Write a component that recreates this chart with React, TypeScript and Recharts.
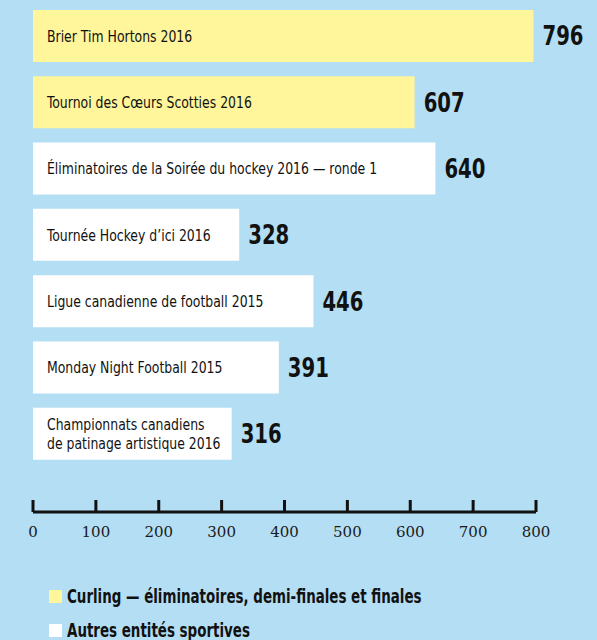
import React from 'react';
import { BarChart, Bar, XAxis, YAxis, Cell, LabelList } from 'recharts';

const categories = [
  'Brier Tim Hortons 2016',
  'Tournoi des Cœurs Scotties 2016',
  'Éliminatoires de la Soirée du hockey 2016 — ronde 1',
  'Tournée Hockey d’ici 2016',
  'Ligue canadienne de football 2015',
  'Monday Night Football 2015',
  'Championnats canadiens\nde patinage artistique 2016',
];
const values = [796, 607, 640, 328, 446, 391, 316];
const groups = ['curling', 'curling', 'autres', 'autres', 'autres', 'autres', 'autres'];
const xTicks = [0, 100, 200, 300, 400, 500, 600, 700, 800];
const legendItems = [
  { key: 'curling', label: 'Curling — éliminatoires, demi-finales et finales' },
  { key: 'autres', label: 'Autres entités sportives' },
];

const COLORS: Record<string, string> = { curling: '#fff59a', autres: '#ffffff' };
const BG = '#b4def3';
const INK = '#111111';
// no narrow face installed, so condensed DejaVu gets squeezed a bit more
const NARROW = '"DejaVu Sans Condensed", "DejaVu Sans", sans-serif';
const SQUEEZE = 0.84;

const data = categories.map((name, i) => ({ name, value: values[i], group: groups[i] }));

const XTick = (props: any) => {
  const { x, y, payload } = props;
  return (
    <g>
      <line x1={x} x2={x} y1={y - 12} y2={y} stroke={INK} strokeWidth={3} />
      <text x={x} y={y + 25} textAnchor="middle" fontFamily='"DejaVu Serif", serif' fontSize={15} fill="#1a1a1a">
        {payload.value}
      </text>
    </g>
  );
};

const NameLabel = (props: any) => {
  const { x, y, height, value } = props;
  const lines = String(value).split('\n');
  const cy = y + height / 2;
  const lh = 18;
  return (
    <text transform={`translate(${x + 14},${cy}) scale(${SQUEEZE},1)`} fontFamily={NARROW} fontSize={16.5} fill={INK}>
      {lines.map((l, i) => (
        <tspan key={i} x={0} y={(i - (lines.length - 1) / 2) * lh} dy="0.35em">
          {l}
        </tspan>
      ))}
    </text>
  );
};

const ValueLabel = (props: any) => {
  const { x, y, width, height, value } = props;
  return (
    <text
      transform={`translate(${x + width + 9},${y + height / 2}) scale(${SQUEEZE},1)`}
      dy="0.36em"
      fontFamily={NARROW}
      fontWeight="bold"
      fontSize={26}
      fill={INK}
    >
      {value}
    </text>
  );
};

export default function App() {
  return (
    <div style={{ position: 'absolute', left: 0, top: 0, width: 597, height: 640, background: BG, overflow: 'hidden' }}>
      <BarChart width={597} height={545} data={data} layout="vertical" margin={{ top: 3, right: 61, bottom: 0, left: 33 }}>
        <XAxis
          type="number"
          domain={[0, 800]}
          ticks={xTicks}
          interval={0}
          height={33}
          tickSize={0}
          tickMargin={0}
          tickLine={false}
          axisLine={{ stroke: INK, strokeWidth: 3 }}
          tick={<XTick />}
        />
        <YAxis
          type="category"
          dataKey="name"
          width={0}
          tick={false}
          tickLine={false}
          axisLine={{ stroke: INK, strokeWidth: 3 }}
          padding={{ top: 0, bottom: 45 }}
        />
        <Bar dataKey="value" barSize={52} isAnimationActive={false}>
          {data.map((d, i) => (
            <Cell key={i} fill={COLORS[d.group]} />
          ))}
          <LabelList dataKey="name" content={<NameLabel />} />
          <LabelList dataKey="value" content={<ValueLabel />} />
        </Bar>
      </BarChart>
      <div style={{ position: 'absolute', left: 49, top: 579, fontFamily: NARROW, fontSize: 19, fontWeight: 'bold', color: INK }}>
        {legendItems.map((it) => (
          <div key={it.key} style={{ display: 'flex', alignItems: 'center', height: 34 }}>
            <span style={{ display: 'inline-block', width: 13, height: 13, background: COLORS[it.key], marginRight: 5 }} />
            <span style={{ display: 'inline-block', whiteSpace: 'nowrap', transform: 'scaleX(0.785)', transformOrigin: 'left center' }}>
              {it.label}
            </span>
          </div>
        ))}
      </div>
    </div>
  );
}
